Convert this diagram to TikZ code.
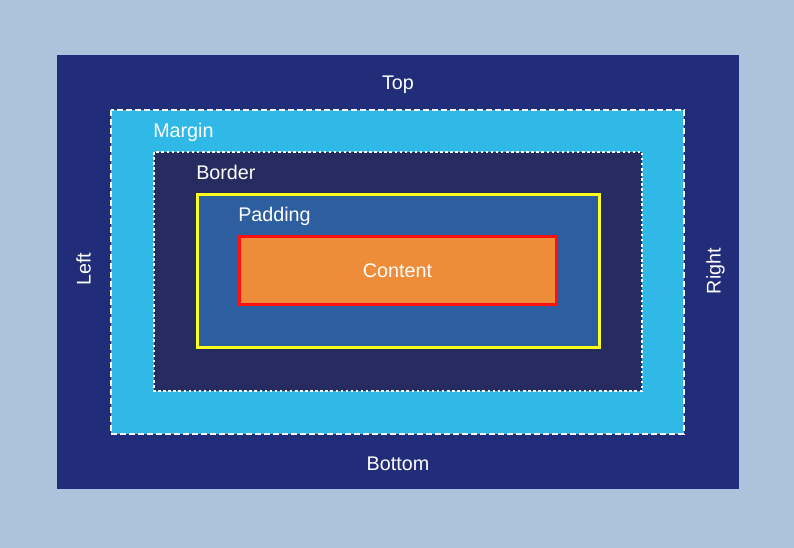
\documentclass[tikz,border=0pt]{standalone}
\usepackage{fontspec}
\setmainfont{Liberation Sans}
\definecolor{bgc}{HTML}{ADC2DB}
\definecolor{outerc}{HTML}{222D7A}
\definecolor{marginc}{HTML}{30B9E6}
\definecolor{borderc}{HTML}{262C60}
\definecolor{paddingc}{HTML}{2D5FA0}
\definecolor{contentc}{HTML}{EE8C3A}
\definecolor{redc}{HTML}{FF1010}
\definecolor{yellowc}{HTML}{FFFF1A}
\tikzset{
  lbl/.style={text=white, font=\fontsize{14.8pt}{17pt}\selectfont, inner sep=0pt, anchor=base},
  lbll/.style={lbl, anchor=base west},
}
\begin{document}
\begin{tikzpicture}[x=0.75pt,y=-0.75pt]
\useasboundingbox (0,0) rectangle (794,548);
\fill[bgc] (0,0) rectangle (794,548);
\fill[outerc] (57,55) rectangle (739,489);
\filldraw[fill=marginc, draw=white, line width=2.5pt*0.75, dash pattern=on 4.5pt off 2.25pt] (111,110) rectangle (684,434);
\filldraw[fill=borderc, draw=white, line width=2.5pt*0.75, dash pattern=on 1.9pt off 1.9pt] (154,152) rectangle (642,391);
\filldraw[fill=paddingc, draw=yellowc, line width=2.25pt] (197,195) rectangle (599,348);
\filldraw[fill=contentc, draw=redc, line width=2.25pt] (239,237) rectangle (556,305);
\node[lbl] (top) at (398,89.5) {Top};
\node[lbl] (bottom) at (398,470.5) {Bottom};
\node[lbl, rotate=90] (left) at (90.5,269) {Left};
\node[lbl, rotate=90] (right) at (720.5,271) {Right};
\node[lbll] (margin) at (153,138) {Margin};
\node[lbll] (border) at (196,179.5) {Border};
\node[lbll] (padding) at (238,222) {Padding};
\node[lbl] (content) at (397.5,277.5) {Content};
\end{tikzpicture}
\end{document}
